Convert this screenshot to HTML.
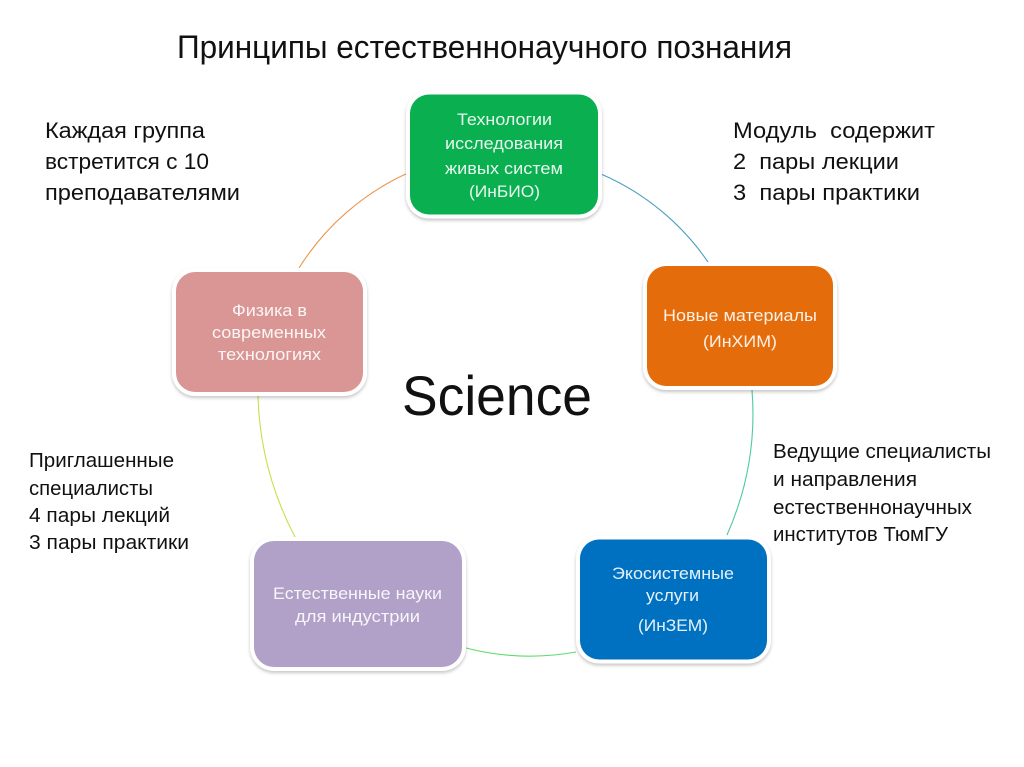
<!DOCTYPE html>
<html lang="ru"><head><meta charset="utf-8"><title>Принципы естественнонаучного познания</title>
<style>
html,body{margin:0;padding:0;background:#fff;width:1024px;height:767px;overflow:hidden}
svg{display:block}
text{font-family:"Liberation Sans",sans-serif}
.b{fill:#111;font-size:22.5px}
.m{fill:#111;font-size:20px}
.w{fill:#fff;fill-opacity:.9;font-size:17px}
.o{fill:#fff;filter:drop-shadow(0 2px 1.5px rgba(0,0,0,.22))}
path{fill:none;stroke-width:1.1}
</style></head><body>
<svg width="1024" height="767" viewBox="0 0 1024 767" xmlns="http://www.w3.org/2000/svg">
<path d="M299 268A250 250 0 0 1 408 173" stroke="#E9964F"/>
<path d="M601 174A250 250 0 0 1 708 262" stroke="#4A9FBD"/>
<path d="M752 390Q758 465 727 535" stroke="#4CCB9E"/>
<path d="M466 648Q520 662 576 652" stroke="#5EDB6C"/>
<path d="M258 396Q260 470 295 537" stroke="#C2E24C"/>

<rect class="o" x="406" y="90.500" width="196" height="128" rx="23"/>
<rect x="410" y="94.500" width="188" height="120" rx="19" fill="#0AAF50"/>
<rect class="o" x="643" y="262" width="194" height="128" rx="23"/>
<rect x="647" y="266" width="186" height="120" rx="19" fill="#E46C0A"/>
<rect class="o" x="576" y="535.500" width="195" height="128" rx="23"/>
<rect x="580" y="539.500" width="187" height="120" rx="19" fill="#0070C0"/>
<rect class="o" x="250" y="537" width="216" height="134" rx="24"/>
<rect x="254" y="541" width="208" height="126" rx="20" fill="#B1A0C7"/>
<rect class="o" x="172" y="268" width="195" height="128" rx="23"/>
<rect x="176" y="272" width="187" height="120" rx="19" fill="#D99694"/>

<text x="177" y="58" font-size="32" fill="#111" textLength="615" lengthAdjust="spacingAndGlyphs">Принципы естественнонаучного познания</text>

<text class="b" x="45" y="138" textLength="160" lengthAdjust="spacingAndGlyphs">Каждая группа</text>
<text class="b" x="45" y="169" textLength="164" lengthAdjust="spacingAndGlyphs">встретится с 10</text>
<text class="b" x="45" y="200" textLength="195" lengthAdjust="spacingAndGlyphs">преподавателями</text>

<text class="b" x="733" y="138" textLength="202" lengthAdjust="spacingAndGlyphs" xml:space="preserve">Модуль  содержит</text>
<text class="b" x="733" y="169" textLength="166" lengthAdjust="spacingAndGlyphs" xml:space="preserve">2  пары лекции</text>
<text class="b" x="733" y="200" textLength="187" lengthAdjust="spacingAndGlyphs" xml:space="preserve">3  пары практики</text>

<text class="m" x="773" y="458" textLength="218" lengthAdjust="spacingAndGlyphs">Ведущие специалисты</text>
<text class="m" x="773" y="486" textLength="144" lengthAdjust="spacingAndGlyphs">и направления</text>
<text class="m" x="773" y="514" textLength="199" lengthAdjust="spacingAndGlyphs">естественнонаучных</text>
<text class="m" x="773" y="541" textLength="175" lengthAdjust="spacingAndGlyphs">институтов ТюмГУ</text>

<text class="m" x="29" y="467" textLength="145" lengthAdjust="spacingAndGlyphs">Приглашенные</text>
<text class="m" x="29" y="495" textLength="124" lengthAdjust="spacingAndGlyphs">специалисты</text>
<text class="m" x="29" y="522" textLength="141" lengthAdjust="spacingAndGlyphs">4 пары лекций</text>
<text class="m" x="29" y="549" textLength="160" lengthAdjust="spacingAndGlyphs">3 пары практики</text>

<text x="402" y="415" font-size="56" fill="#111" textLength="190" lengthAdjust="spacingAndGlyphs">Science</text>

<text class="w" x="457" y="125" textLength="95" lengthAdjust="spacingAndGlyphs">Технологии</text>
<text class="w" x="445" y="149" textLength="118" lengthAdjust="spacingAndGlyphs">исследования</text>
<text class="w" x="445" y="174" textLength="118" lengthAdjust="spacingAndGlyphs">живых систем</text>
<text class="w" x="469" y="197" textLength="71" lengthAdjust="spacingAndGlyphs">(ИнБИО)</text>

<text class="w" x="663" y="321" textLength="154" lengthAdjust="spacingAndGlyphs">Новые материалы</text>
<text class="w" x="703" y="347" textLength="74" lengthAdjust="spacingAndGlyphs">(ИнХИМ)</text>

<text class="w" x="612" y="579" textLength="122" lengthAdjust="spacingAndGlyphs">Экосистемные</text>
<text class="w" x="646" y="601" textLength="53" lengthAdjust="spacingAndGlyphs">услуги</text>
<text class="w" x="638" y="631" textLength="70" lengthAdjust="spacingAndGlyphs">(ИнЗЕМ)</text>

<text class="w" x="273" y="599" textLength="169" lengthAdjust="spacingAndGlyphs">Естественные науки</text>
<text class="w" x="295" y="622" textLength="125" lengthAdjust="spacingAndGlyphs">для индустрии</text>

<text class="w" x="232" y="316" textLength="75" lengthAdjust="spacingAndGlyphs">Физика в</text>
<text class="w" x="212" y="338" textLength="114" lengthAdjust="spacingAndGlyphs">современных</text>
<text class="w" x="218" y="360" textLength="103" lengthAdjust="spacingAndGlyphs">технологиях</text>
</svg>
</body></html>
